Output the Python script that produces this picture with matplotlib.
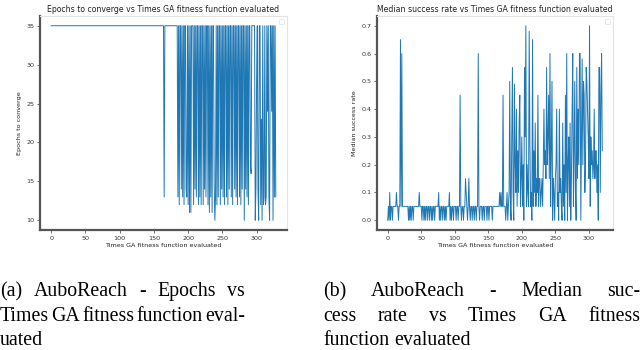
import numpy as np
import matplotlib
matplotlib.use("Agg")
from matplotlib import pyplot as plt

# left panel: epochs to converge per evaluation
epochs_head = [35] * 165 + [13] + [35] * 18
epochs_tail = [
    35, 13, 35, 12, 35, 35, 14, 35, 13, 35, 12, 35, 35, 14, 13, 35, 12, 35, 11, 35, 11, 35,
    35, 35,
    12, 35, 14, 35, 13, 35, 35, 12, 35, 13, 35, 12, 35, 35, 12, 35, 14, 35, 13, 35, 35,
    12, 35, 11, 35, 13, 35, 11, 35,
    35, 15, 10, 13, 35, 12,
    35, 13, 35, 35, 12, 35, 14, 35, 13, 35, 12, 35, 35, 13, 35, 12, 35, 14, 35, 35,
    13, 35, 12, 35, 35, 14, 35, 13, 35, 12, 35, 35, 13, 35, 12, 35, 14, 35, 35, 10,
    35, 14, 35, 13, 35, 12, 35, 35, 17, 16, 35, 35,
    35, 35, 35, 10, 14, 28, 35, 14, 10, 35, 35, 12, 23, 10, 35, 12, 13, 35, 12, 13,
    35, 24, 35, 13, 10, 35, 35, 24, 35, 10, 35, 13, 35, 13,
]
epochs = epochs_head + epochs_tail

# right panel: median success rate per evaluation
success_early = [
    0.0, 0.05, 0.0, 0.1, 0.0, 0.05, 0.05, 0.0, 0.05, 0.05,
    0.05, 0.05, 0.05, 0.1, 0.05, 0.05, 0.0, 0.05, 0.05, 0.65,
    0.05, 0.6, 0.05, 0.05, 0.05, 0.05, 0.05, 0.05, 0.05, 0.05,
    0.05, 0.0, 0.05, 0.0, 0.05, 0.0, 0.05, 0.05, 0.0, 0.05,
    0.05, 0.05, 0.05, 0.05, 0.05, 0.05, 0.05, 0.1, 0.05, 0.05,
    0.05, 0.0, 0.05, 0.05, 0.0, 0.05, 0.0, 0.05, 0.05, 0.0,
    0.05, 0.05, 0.0, 0.05, 0.05, 0.0, 0.05, 0.0, 0.05, 0.05,
    0.0, 0.05, 0.05, 0.05, 0.05, 0.05, 0.1, 0.0, 0.05, 0.0,
    0.05, 0.05, 0.0, 0.05, 0.05, 0.0, 0.05, 0.0, 0.05, 0.05,
    0.05, 0.05, 0.1, 0.0, 0.05, 0.0, 0.05, 0.05, 0.0, 0.05,
    0.05, 0.05, 0.0, 0.05, 0.05, 0.0, 0.05, 0.05, 0.45, 0.05,
    0.0, 0.05, 0.05, 0.0, 0.05, 0.05, 0.15, 0.1, 0.05, 0.0,
    0.05, 0.15, 0.05, 0.0, 0.05, 0.05, 0.0, 0.05, 0.05, 0.0,
    0.05, 0.05, 0.0, 0.05, 0.05, 0.6, 0.05, 0.0, 0.05, 0.05,
    0.05, 0.0, 0.05, 0.05, 0.0, 0.05, 0.05, 0.05, 0.0, 0.05,
    0.05, 0.0, 0.05, 0.05, 0.05, 0.05, 0.0, 0.05, 0.05, 0.05,
    0.05, 0.05, 0.05, 0.05, 0.05, 0.05, 0.05, 0.1, 0.05, 0.1,
    0.05, 0.05, 0.45, 0.05, 0.05, 0.05, 0.0, 0.05, 0.1, 0.0,
]
success_late = [
    0.05, 0.1, 0.5, 0.05, 0.0, 0.3, 0.55, 0.1, 0.0, 0.49,
    0.2, 0.1, 0.4, 0.05, 0.25, 0.1, 0.35, 0.45, 0.05, 0.15,
    0.3, 0.05, 0.2, 0.0, 0.55, 0.3, 0.7, 0.05, 0.2, 0.1,
    0.05, 0.68, 0.3, 0.05, 0.1, 0.0, 0.65, 0.05, 0.25, 0.1,
    0.35, 0.05, 0.15, 0.1, 0.45, 0.05, 0.15, 0.15, 0.05, 0.1,
    0.15, 0.05, 0.2, 0.4, 0.2, 0.25, 0.15, 0.55, 0.2, 0.3,
    0.45, 0.15, 0.6, 0.05, 0.25, 0.5, 0.0, 0.15, 0.1, 0.0,
    0.15, 0.2, 0.4, 0.05, 0.1, 0.0, 0.4, 0.1, 0.15, 0.05,
    0.0, 0.35, 0.05, 0.2, 0.0, 0.45, 0.1, 0.6, 0.0, 0.2,
    0.3, 0.05, 0.35, 0.0, 0.15, 0.4, 0.6, 0.05, 0.25, 0.5,
    0.1, 0.0, 0.55, 0.15, 0.4, 0.2, 0.6, 0.6, 0.0, 0.3,
    0.58, 0.2, 0.5, 0.45, 0.1, 0.2, 0.55, 0.5, 0.4, 0.3,
    0.15, 0.7, 0.05, 0.3, 0.2, 0.25, 0.15, 0.2, 0.4, 0.15,
    0.25, 0.25, 0.1, 0.2, 0.0, 0.55, 0.55, 0.1, 0.45, 0.6,
    0.25,
]
success = success_early + success_late

titles = ["Epochs to converge vs Times GA fitness function evaluated",
          "Median success rate vs Times GA fitness function evaluated"]
ylabels = ["Epochs to converge", "Median success rate"]
xlabel = "Times GA fitness function evaluated"
captions = [
    ["(a) AuboReach - Epochs vs", "Times GA fitness function eval-", "uated"],
    ["(b) AuboReach - Median suc-", "cess rate vs Times GA fitness", "function evaluated"],
]

fig = plt.figure(figsize=(6.4, 3.5), dpi=100)
ax1 = fig.add_axes([40 / 640, 120 / 350, 247 / 640, 214 / 350])
ax2 = fig.add_axes([377 / 640, 120 / 350, 236 / 640, 214 / 350])

series = [epochs, success]
for ax, ys, title, ylab in zip([ax1, ax2], series, titles, ylabels):
    ax.plot(np.arange(len(ys)), ys, color="#1f77b4", lw=0.7)
    ax.set_title(title, fontsize=5.6, pad=3, color="#222222")
    ax.set_xlabel(xlabel, fontsize=4.6, labelpad=2, color="#222222")
    ax.set_ylabel(ylab, fontsize=4.6, labelpad=3, color="#222222")
    ax.set_xticks([0, 50, 100, 150, 200, 250, 300])
    ax.tick_params(labelsize=4.6, length=2, width=0.5, pad=2, colors="#333333")
    for s in ["left", "bottom"]:
        ax.spines[s].set_color("#555555")
        ax.spines[s].set_linewidth(1.6)
    for s in ["top", "right"]:
        ax.spines[s].set_color("#e4e4e4")
        ax.spines[s].set_linewidth(0.8)
    leg = ax.legend(handles=[], loc="upper right", fontsize=4, borderpad=0.5)
    leg.get_frame().set_linewidth(0.4)

ax1.set_yticks([10, 15, 20, 25, 30, 35])
ax2.set_yticks([0.0, 0.1, 0.2, 0.3, 0.4, 0.5, 0.6, 0.7])

# justified captions, word by word
cap_size = 14.3
fig.canvas.draw()
renderer = fig.canvas.get_renderer()
cols = [(0, 245), (323, 640)]
line_y = [296, 321, 345]
for (x0, x1), lines in zip(cols, captions):
    for i, line in enumerate(lines):
        words = line.split(" ")
        ty = 1 - line_y[i] / 350
        arts = [fig.text(0, ty, w, fontsize=cap_size, family="Liberation Serif",
                         va="baseline", ha="left") for w in words]
        widths = [a.get_window_extent(renderer).width for a in arts]
        if i < len(lines) - 1 and len(words) > 1:
            gap = (x1 - x0 - sum(widths)) / (len(words) - 1)
        else:
            gap = renderer.points_to_pixels(cap_size) * 0.25
        x = x0
        for a, w in zip(arts, widths):
            a.set_x(x / 640)
            x += w + gap

fig.savefig("out.png", dpi=100)
